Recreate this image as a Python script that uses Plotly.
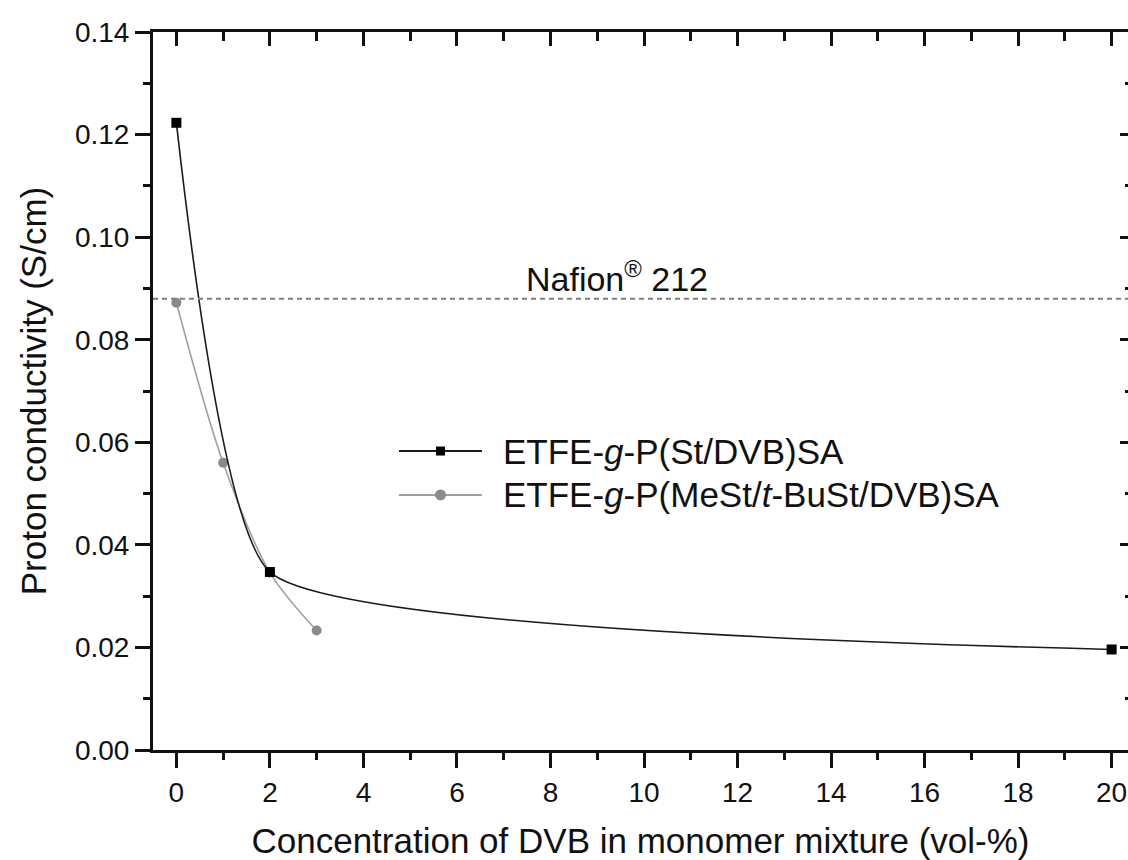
import plotly.graph_objects as go

# ---- data ----
dvb_st = [0, 2, 20]
cond_st = [0.1223, 0.0347, 0.0196]
dvb_mest = [0, 1, 2, 3]
cond_mest = [0.0872, 0.0560, 0.0346, 0.0233]
nafion_value = 0.088
name_st = "ETFE-<i>g</i>-P(St/DVB)SA"
name_mest = "ETFE-<i>g</i>-P(MeSt/<i>t</i>-BuSt/DVB)SA"
nafion_label = "Nafion<sup>®</sup> 212"
x_title = "Concentration of DVB in monomer mixture (vol-%)"
y_title = "Proton conductivity (S/cm)"
x_range = [-0.5, 20.35]
y_range = [0, 0.14]

FONT = "Liberation Sans, Arial, sans-serif"

fig = go.Figure()
fig.add_trace(go.Scatter(
    x=dvb_mest, y=cond_mest, mode="lines+markers", name=name_mest,
    line=dict(color="#a0a0a0", width=1.6, shape="spline", smoothing=0.9),
    marker=dict(symbol="circle", size=10, color="#8a8a8a"),
    showlegend=False))
fig.add_trace(go.Scatter(
    x=dvb_st, y=cond_st, mode="lines+markers", name=name_st,
    line=dict(color="#1a1a1a", width=1.6, shape="spline", smoothing=0.45),
    marker=dict(symbol="square", size=10, color="#000000"),
    showlegend=False))
# invisible trace to activate the top/right mirror axes
fig.add_trace(go.Scatter(x=[None], y=[None], xaxis="x2", yaxis="y2",
                         showlegend=False, hoverinfo="skip"))

# Nafion reference line
fig.add_shape(type="line", xref="paper", x0=0, x1=1, yref="y",
              y0=nafion_value, y1=nafion_value,
              line=dict(color="#808080", width=2, dash="5px,4px"))
fig.add_annotation(text=nafion_label, xref="paper", x=0.4754, yref="y",
                   y=nafion_value, yanchor="bottom", showarrow=False,
                   yshift=-1, font=dict(family=FONT, size=34, color="#111"))

# custom legend
leg_x0, leg_x1, leg_xm, leg_tx = 0.2523, 0.3374, 0.2949, 0.3569
leg_rows = [0.4164, 0.3552]
leg_items = [(name_st, "#1a1a1a", "rect", "#000000", 4.5),
             (name_mest, "#a0a0a0", "circle", "#8a8a8a", 5.5)]
for (txt, lc, sym, mc, half), ly in zip(leg_items, leg_rows):
    fig.add_shape(type="line", xref="paper", yref="paper", x0=leg_x0, x1=leg_x1,
                  y0=ly, y1=ly, line=dict(color=lc, width=2))
    fig.add_shape(type=sym, xref="paper", yref="paper", xsizemode="pixel",
                  ysizemode="pixel", xanchor=leg_xm, yanchor=ly,
                  x0=-half, x1=half, y0=-half, y1=half,
                  fillcolor=mc, line=dict(width=0))
    fig.add_annotation(text=txt, xref="paper", yref="paper", x=leg_tx, y=ly,
                       xanchor="left", yanchor="middle", showarrow=False,
                       font=dict(family=FONT, size=35, color="#111"))

axis_common = dict(range=x_range, showgrid=False, zeroline=False)
fig.update_layout(
    width=1128, height=860,
    margin=dict(l=153, r=0, t=32, b=110),
    paper_bgcolor="white", plot_bgcolor="white",
    font=dict(family=FONT, size=28, color="#111"),
    xaxis=dict(**axis_common, tickmode="linear", tick0=0, dtick=2,
               ticks="outside", ticklen=15, tickwidth=2.5, tickcolor="#111",
               minor=dict(ticks="outside", ticklen=7, tickwidth=2.5,
                          tickcolor="#111", dtick=1, tick0=0),
               showline=True, linewidth=3, linecolor="#111",
               tickfont=dict(size=28),
               title=dict(text=x_title, font=dict(size=35), standoff=24)),
    xaxis2=dict(**axis_common, overlaying="x", side="top", anchor="y2",
                tickmode="linear", tick0=0, dtick=2, ticks="inside",
                ticklen=14, tickwidth=2.5, tickcolor="#111",
                minor=dict(ticks="inside", ticklen=9, tickwidth=2.5,
                           tickcolor="#111", dtick=1, tick0=0),
                showline=True, linewidth=3, linecolor="#111",
                showticklabels=False),
    yaxis=dict(range=y_range, showgrid=False, zeroline=False,
               tickmode="linear", tick0=0, dtick=0.02, tickformat=".2f",
               ticks="outside", ticklen=15, tickwidth=2.5, tickcolor="#111",
               minor=dict(ticks="outside", ticklen=7, tickwidth=2.5,
                          tickcolor="#111", dtick=0.01, tick0=0),
               showline=True, linewidth=3, linecolor="#111",
               tickfont=dict(size=28),
               title=dict(text=y_title, font=dict(size=35), standoff=18)),
    yaxis2=dict(range=y_range, overlaying="y", side="right", anchor="x2",
                showgrid=False, zeroline=False, tickmode="linear", tick0=0,
                dtick=0.02, ticks="inside", ticklen=8, tickwidth=2.5,
                tickcolor="#111",
                minor=dict(ticks="inside", ticklen=3, tickwidth=2.5,
                           tickcolor="#111", dtick=0.01, tick0=0),
                showline=False, showticklabels=False),
)

fig.write_html("out.html")
